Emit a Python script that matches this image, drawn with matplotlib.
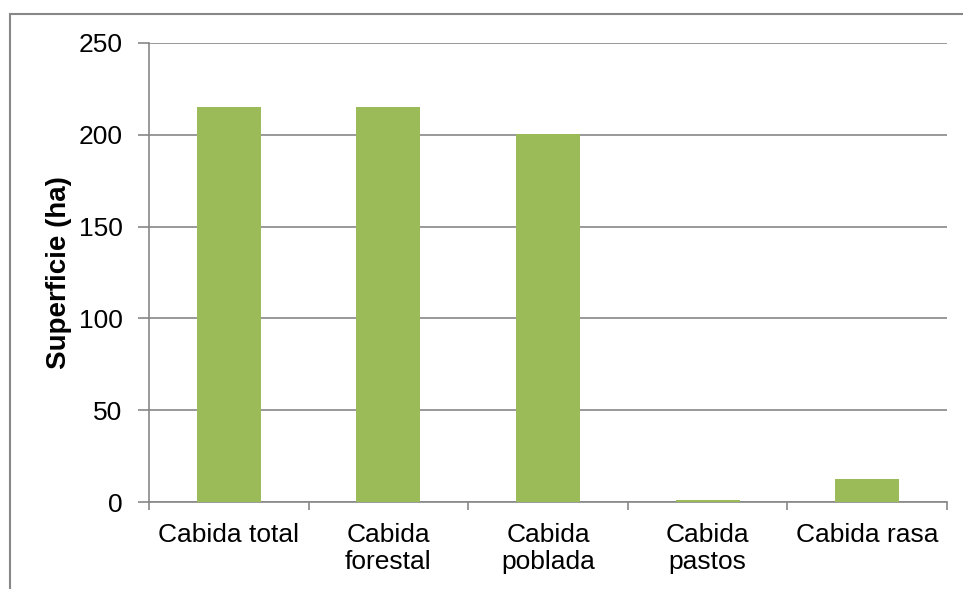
import matplotlib.pyplot as plt
from matplotlib.patches import Rectangle
import numpy as np

# Superficies por tipo de cabida
categorias = ["Cabida total", "Cabida\nforestal", "Cabida\npoblada", "Cabida\npastos", "Cabida rasa"]
superficie = [215, 215, 200.5, 1.2, 12.3]

plt.rcParams['font.family'] = ['Liberation Sans', 'DejaVu Sans']

fig = plt.figure(figsize=(9.63, 5.89), dpi=100)
W, H = 963, 589
ax = fig.add_axes([149 / W, 1 - 502 / H, (947 - 149) / W, (502 - 43) / H])

# marco exterior del grafico
fig.patches.append(Rectangle((10 / W, -0.05), 1.1, 1 - 14 / H + 0.05,
                             transform=fig.transFigure, fill=False,
                             edgecolor='#878787', linewidth=1.5))

x = np.arange(len(categorias))
ax.bar(x, superficie, width=0.4, color='#9bbb59', zorder=3)

ax.set_xlim(-0.5, len(categorias) - 0.5)
ax.set_ylim(0, 250)
ax.set_yticks([0, 50, 100, 150, 200, 250])
ax.yaxis.grid(True, color='#878787', linewidth=1.2, zorder=0)

# ticks del eje X en los limites de cada categoria
ax.set_xticks(np.arange(len(categorias) + 1) - 0.5)
ax.set_xticklabels([])
ax.set_xticks(x, minor=True)
ax.set_xticklabels(categorias, minor=True, fontsize=19, linespacing=1.15)
ax.tick_params(axis='x', which='minor', length=0, pad=15)
ax.tick_params(axis='x', which='major', length=6, color='#878787', width=1.2)
ax.tick_params(axis='y', length=8, color='#878787', width=1.2, labelsize=19, pad=11)

for s in ['top', 'right']:
    ax.spines[s].set_visible(False)
for s in ['left', 'bottom']:
    ax.spines[s].set_color('#878787')
    ax.spines[s].set_linewidth(1.2)

ax.set_ylabel('Superficie (ha)', fontsize=20, fontweight='bold', labelpad=5)

fig.savefig('out.png', dpi=100)
